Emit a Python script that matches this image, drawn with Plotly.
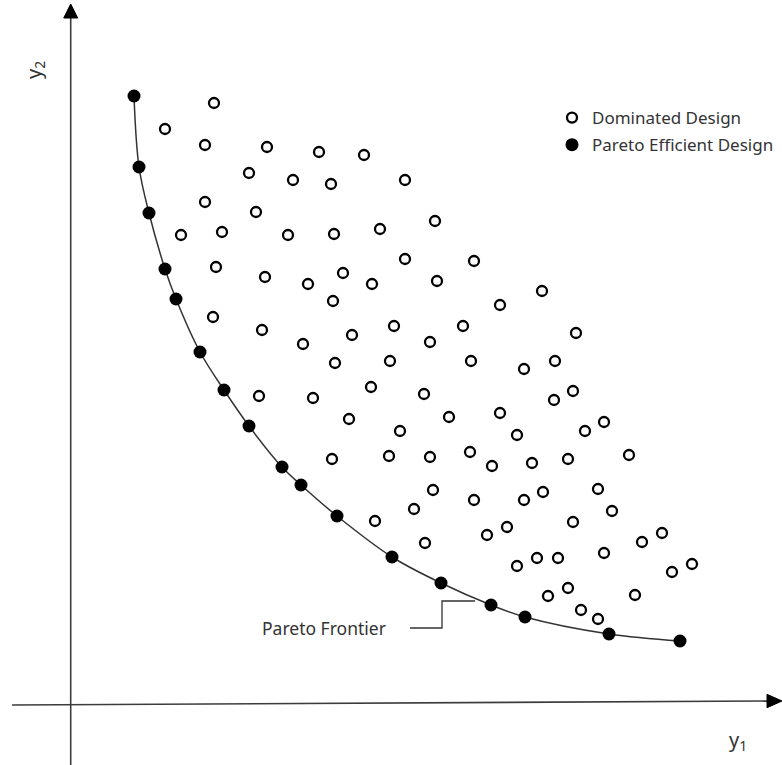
import plotly.graph_objects as go

# Pareto efficient designs (y1, y2)
pareto_y1 = [6.4, 6.9, 7.9, 9.5, 10.6, 13.0, 15.4, 17.9, 21.2, 23.1, 26.7, 32.2, 37.1, 42.1, 45.5, 53.9, 61.0]
pareto_y2 = [60.7, 53.6, 49.0, 43.4, 40.4, 35.1, 31.3, 27.7, 23.6, 21.8, 18.7, 14.6, 12.0, 9.8, 8.6, 6.9, 6.2]

# Dominated designs (y1, y2)
dominated_y1 = [14.4, 9.5, 13.5, 19.7, 24.9, 29.4, 17.9, 22.3, 26.1, 33.5,
                13.5, 18.6, 36.5, 11.1, 15.2, 21.8, 26.4, 31.0, 14.6, 19.5,
                23.8, 27.3, 30.2, 33.5, 36.7, 40.4, 26.3, 43.0, 47.2, 14.3,
                19.2, 23.3, 28.2, 32.4, 36.0, 39.3, 50.6, 18.9, 24.3, 26.5,
                32.0, 30.1, 35.4, 40.1, 45.4, 48.5, 48.4, 50.3, 27.9, 37.9,
                33.0, 43.0, 44.7, 51.5, 53.4, 26.2, 31.9, 36.0, 40.0, 42.2,
                46.2, 49.8, 55.9, 36.3, 34.4, 40.4, 45.4, 47.3, 52.8, 54.2,
                30.5, 41.7, 43.7, 50.3, 35.5, 57.2, 59.2, 44.7, 46.7, 48.8,
                53.4, 62.2, 60.2, 47.8, 49.8, 56.5, 51.1, 52.8]
dominated_y2 = [60.0, 57.4, 55.8, 55.6, 55.1, 54.8, 53.0, 52.3, 51.9, 52.3,
                50.1, 49.1, 48.2, 46.8, 47.1, 46.8, 46.9, 47.4, 43.6, 42.6,
                41.9, 43.0, 41.9, 44.4, 42.2, 44.2, 40.2, 39.8, 41.2, 38.6,
                37.3, 35.9, 36.8, 37.7, 36.1, 37.7, 37.0, 30.7, 30.5, 34.0,
                34.2, 31.6, 30.9, 34.2, 33.4, 34.2, 30.3, 31.2, 28.4, 28.6,
                27.2, 29.0, 26.8, 27.2, 28.1, 24.4, 24.7, 24.6, 25.1, 23.7,
                24.0, 24.4, 24.8, 21.3, 19.4, 20.3, 20.3, 21.1, 21.4, 19.2,
                18.2, 16.8, 17.6, 18.1, 16.0, 16.1, 17.0, 13.7, 14.5, 14.5,
                15.0, 13.9, 13.1, 10.7, 11.5, 10.8, 9.3, 8.4]

FONT = "Noto Sans"
AX = "#3c3c3c"

fig = go.Figure()

# Frontier curve
fig.add_trace(go.Scatter(
    x=pareto_y1, y=pareto_y2, mode="lines",
    line=dict(color="#333333", width=1.5, shape="spline", smoothing=1.0),
    hoverinfo="skip", showlegend=False))

fig.add_trace(go.Scatter(
    x=dominated_y1, y=dominated_y2, mode="markers", name="Dominated Design",
    legendgroup="a",
    marker=dict(symbol="circle", size=10, color="white",
                line=dict(color="black", width=2.3))))

fig.add_trace(go.Scatter(
    x=pareto_y1, y=pareto_y2, mode="markers", name="Pareto Efficient Design",
    legendgroup="b",
    marker=dict(symbol="circle", size=13, color="black",
                line=dict(color="black", width=0))))

shapes = [
    # vertical axis
    dict(type="line", x0=0.07, y0=-6.3, x1=0.07, y1=68.6,
         line=dict(color=AX, width=1.6)),
    dict(type="path", path="M -0.63 68.5 L 0.07 69.9 L 0.77 68.5 Z",
         fillcolor="black", line=dict(color="black", width=1)),
    # horizontal axis
    dict(type="line", x0=-5.8, y0=-0.2, x1=69.8, y1=0.2,
         line=dict(color=AX, width=1.6)),
    dict(type="path", path="M 69.7 0.87 L 71.2 0.2 L 69.7 -0.47 Z",
         fillcolor="black", line=dict(color="black", width=1)),
    # leader line for frontier label
    dict(type="path", path="M 34.0 7.5 L 37.2 7.5 L 37.2 10.2 L 40.5 10.2",
         line=dict(color="#333333", width=1.3)),
]

annotations = [
    dict(x=31.8, y=7.5, xref="x", yref="y", text="Pareto Frontier",
         showarrow=False, xanchor="right", yanchor="middle",
         font=dict(family=FONT, size=17.5, color="#333333")),
    dict(x=66.8, y=-3.7, xref="x", yref="y", text="y<sub>1</sub>",
         showarrow=False, xanchor="center", yanchor="middle",
         font=dict(family=FONT, size=20, color="#333333")),
    dict(x=-3.6, y=63.3, xref="x", yref="y", text="y<sub>2</sub>",
         showarrow=False, textangle=-90, xanchor="center", yanchor="middle",
         font=dict(family=FONT, size=20, color="#333333")),
]

fig.update_layout(
    width=782, height=765,
    margin=dict(l=0, r=0, t=0, b=0),
    paper_bgcolor="white", plot_bgcolor="white",
    xaxis=dict(range=[-7.0, 71.2], visible=False, fixedrange=True),
    yaxis=dict(range=[-6.2, 70.3], visible=False, fixedrange=True),
    shapes=shapes, annotations=annotations,
    showlegend=True,
    legend=dict(x=552 / 782, y=1 - 100 / 765, xanchor="left", yanchor="top",
                bgcolor="rgba(0,0,0,0)", traceorder="grouped", tracegroupgap=2,
                font=dict(family=FONT, size=17, color="#333333")),
)

fig.write_html("out.html", config={"displayModeBar": False},
               post_script="document.body.style.margin='0';document.body.style.overflow='hidden';")
